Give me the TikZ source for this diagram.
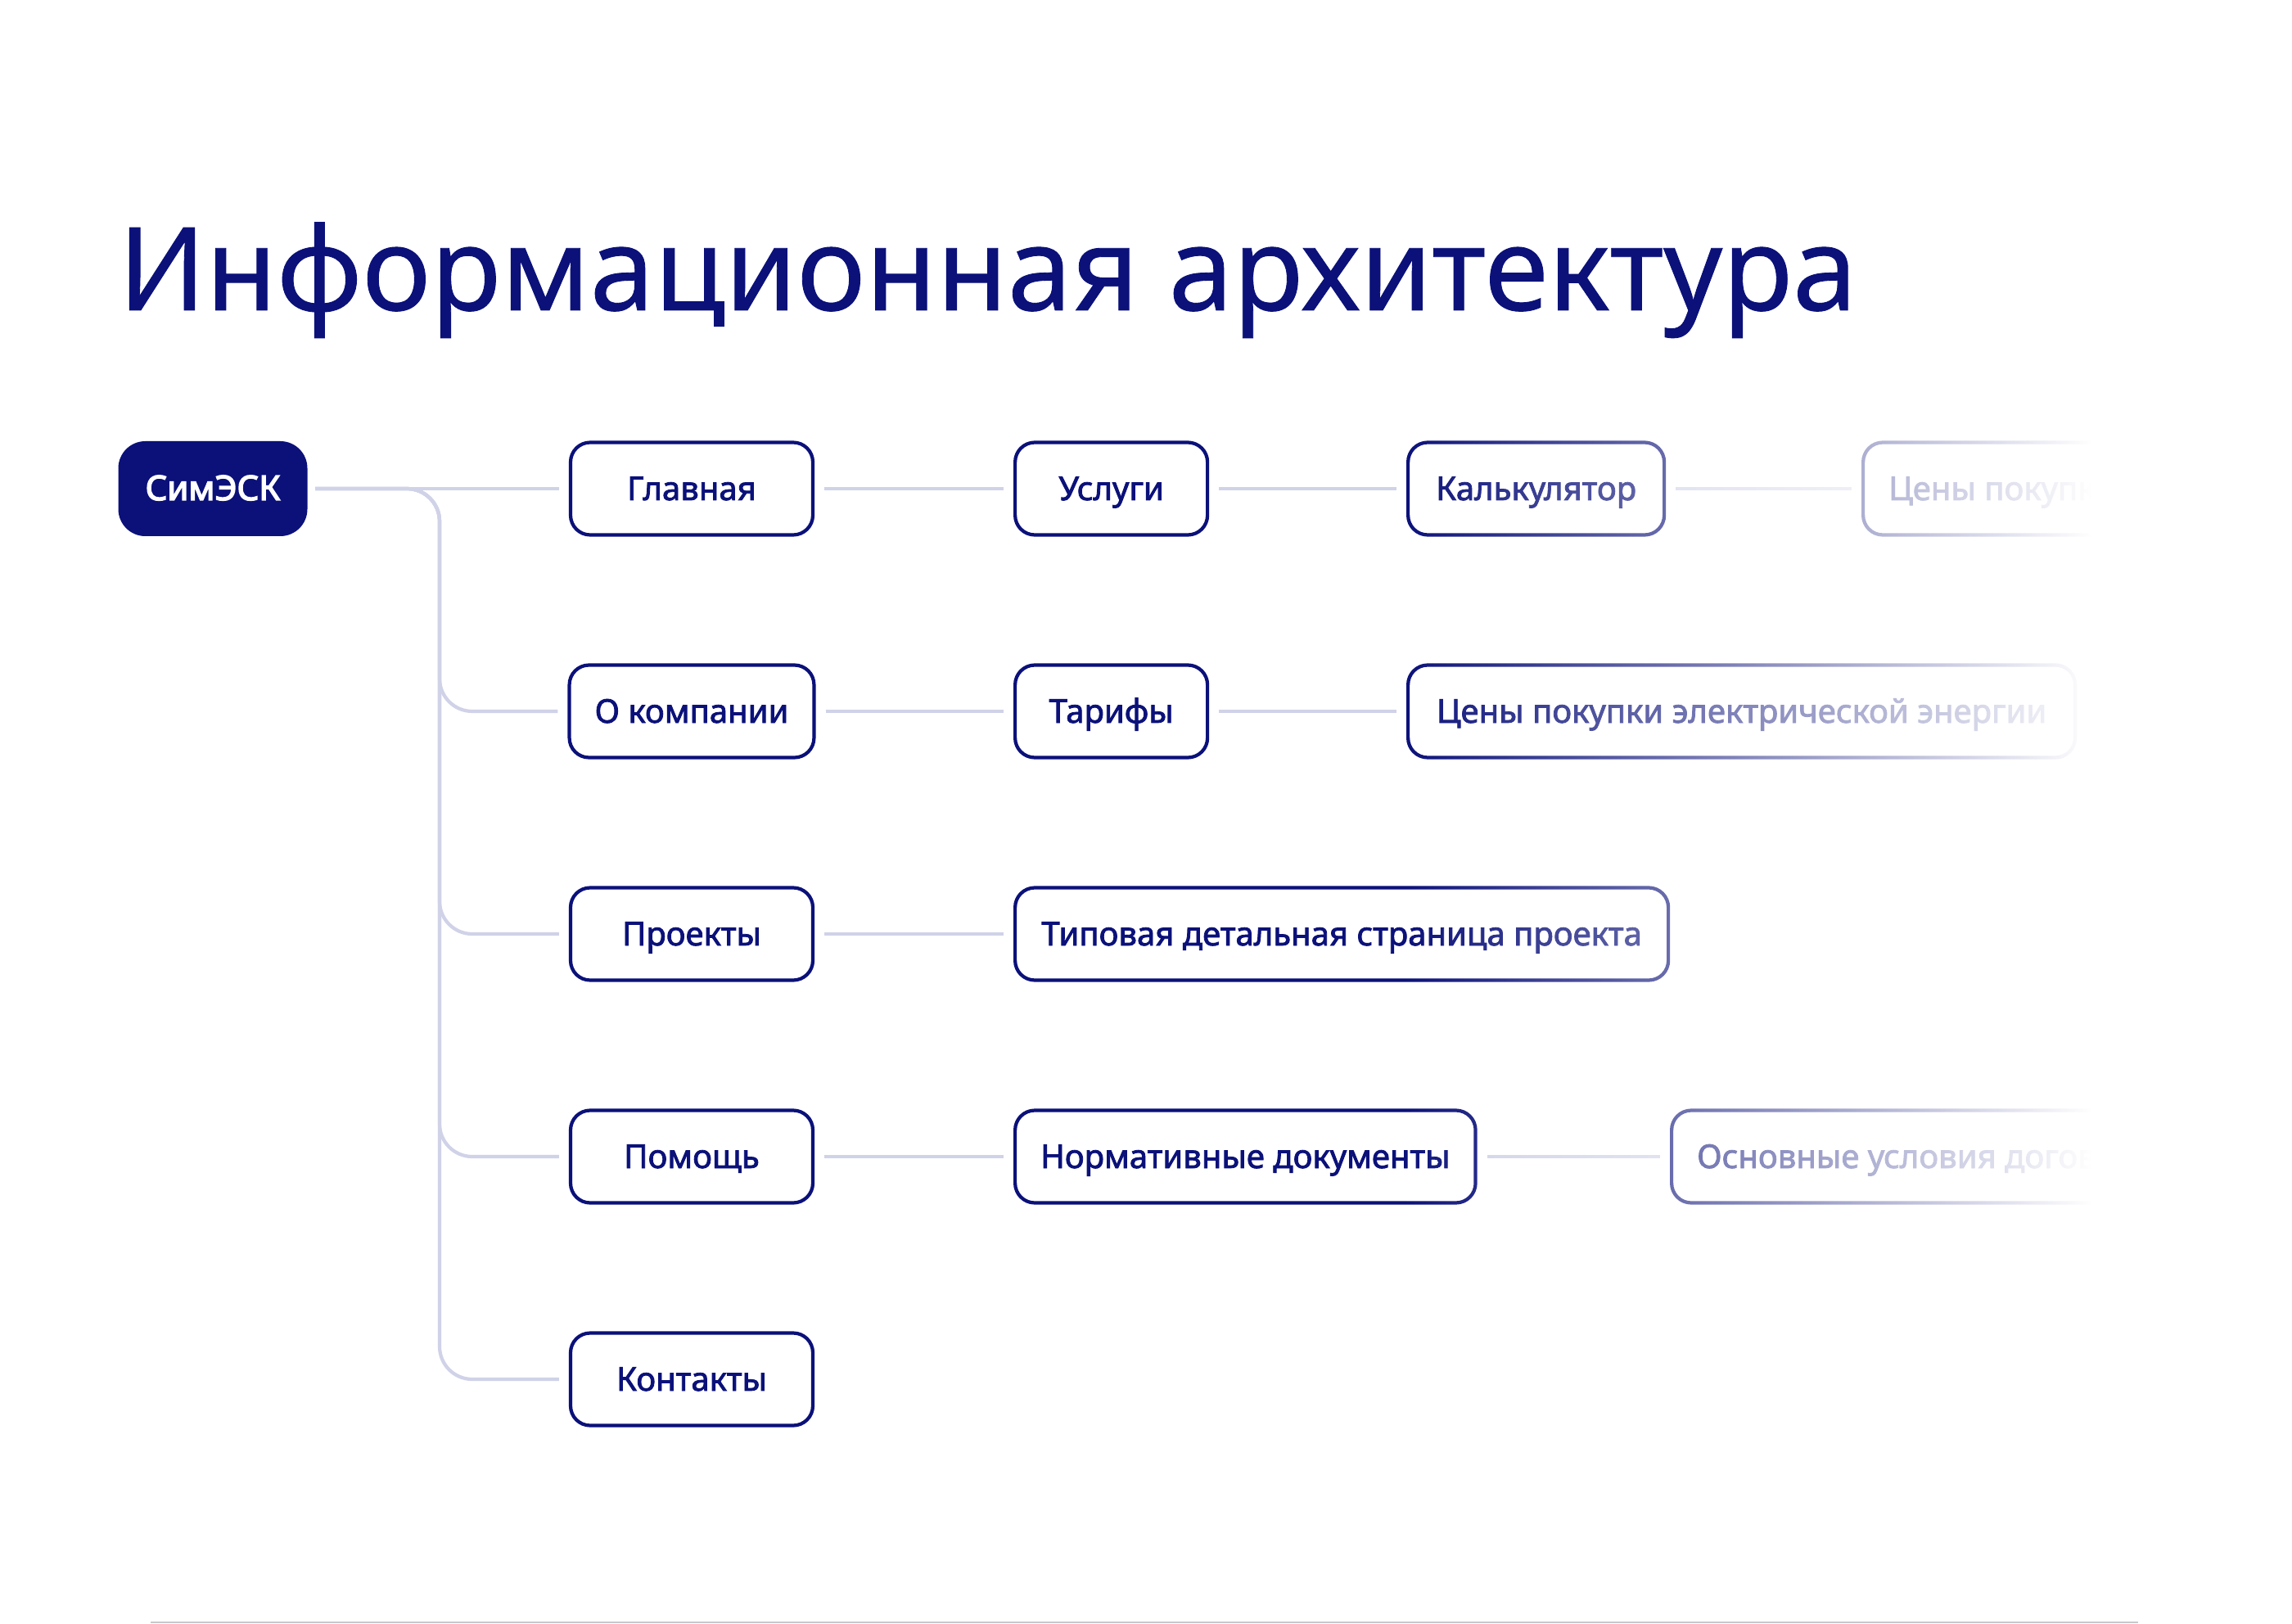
\documentclass[tikz,border=0pt]{standalone}
\usepackage{fontspec}
\setmainfont{Noto Sans}
\newfontfamily\pagefont[FakeBold=2]{Noto Sans}
\newfontfamily\rootfont[FakeBold=3.5]{Noto Sans}
\newfontfamily\headfont[FakeBold=0.6]{Noto Sans}
\usepackage{tikz}
\usetikzlibrary{calc,fadings}

\definecolor{simnavy}{RGB}{11,17,121}
\definecolor{simline}{RGB}{208,210,232}
\definecolor{simedge}{RGB}{200,200,204}

\tikzfading[name=fade out right, left color=transparent!100, right color=transparent!0]

\begin{document}
\begin{tikzpicture}[
		rootbox/.style={fill=simnavy, text=white, rounded corners=0.33cm, minimum width=2.31cm, minimum height=1.16cm, inner sep=0pt, text height=0.28cm, text depth=0cm, font=\rootfont\fontsize{11.9}{13}\selectfont},
		pagebox/.style={draw=simnavy, line width=1.2pt, fill=white, text=simnavy, rounded corners=0.24cm, minimum height=1.13cm, inner xsep=0.31cm, text height=0.28cm, text depth=0cm, font=\pagefont\fontsize{11.4}{13}\selectfont},
		link/.style={draw=simline, line width=1.2pt, shorten >=0.12cm, shorten <=0.09cm},
		]
		
		\useasboundingbox (0,0) rectangle (28,-19.84);
		
		\node[anchor=base west, inner sep=0pt, text=simnavy, font=\headfont\fontsize{40.2}{48}\selectfont] (title) at (1.44,-3.79) {Информационная архитектура};
		
		% root and first level
		\node[rootbox] (sim) at (2.60,-5.97) {СимЭСК};
		
		\node[pagebox, minimum width=2.96cm] (glav) at (8.45,-5.97) {Главная};
		\node[pagebox, minimum width=2.96cm] (okomp) at (8.45,-8.69) {О компании};
		\node[pagebox, minimum width=2.96cm] (proj) at (8.45,-11.41) {Проекты};
		\node[pagebox, minimum width=2.96cm] (help) at (8.45,-14.13) {Помощь};
		\node[pagebox, minimum width=2.96cm] (cont) at (8.45,-16.85) {Контакты};
		
		% second level
		\node[pagebox, anchor=west, minimum width=2.35cm] (usl) at (12.38,-5.97) {Услуги};
		\node[pagebox, anchor=west, minimum width=2.35cm] (tarif) at (12.38,-8.69) {Тарифы};
		\node[pagebox, anchor=west, minimum width=7.98cm] (tipdet) at (12.38,-11.41) {Типовая детальная страница проекта};
		\node[pagebox, anchor=west, minimum width=5.57cm] (normdoc) at (12.38,-14.13) {Нормативные документы};
		
		% third level
		\node[pagebox, anchor=west, minimum width=3.13cm] (calc) at (17.18,-5.97) {Калькулятор};
		\node[pagebox, anchor=west, minimum width=8.15cm] (price) at (17.18,-8.69) {Цены покупки электрической энергии};
		\node[pagebox, anchor=west] (cond) at (20.40,-14.13) {Основные условия договора};
		\node[pagebox, anchor=west, minimum width=3.3cm] (calcprice) at (22.74,-5.97) {Цены покупки};
		
		% connectors
		\coordinate (fork) at (5.37,-5.97);
		\draw[link] (sim.east) -- (glav.west);
		\foreach \p in {okomp,proj,help,cont}
		\draw[link, rounded corners=0.4cm] (sim.east) -- (fork) |- (\p.west);
		
		\draw[link, shorten <=0.12cm] (glav.east) -- (usl.west);
		\draw[link, shorten <=0.12cm] (usl.east) -- (calc.west);
		\draw[link, shorten <=0.12cm] (calc.east) -- (calcprice.west);
		\draw[link, shorten <=0.12cm] (okomp.east) -- (tarif.west);
		\draw[link, shorten <=0.12cm] (tarif.east) -- (price.west);
		\draw[link, shorten <=0.12cm] (proj.east) -- (tipdet.west);
		\draw[link, shorten <=0.12cm] (help.east) -- (normdoc.west);
		\draw[link, shorten <=0.12cm] (normdoc.east) -- (cond.west);
		
		% fade to the right
		\fill[white, path fading=fade out right] (17.15,-5.1) rectangle (25.54,-14.9);
		\fill[white] (25.54,-5.1) rectangle (28,-14.9);
		
		\draw[simedge, line width=0.6pt] (1.84,-19.82) -- (26.12,-19.82);
	\end{tikzpicture}
\end{document}
